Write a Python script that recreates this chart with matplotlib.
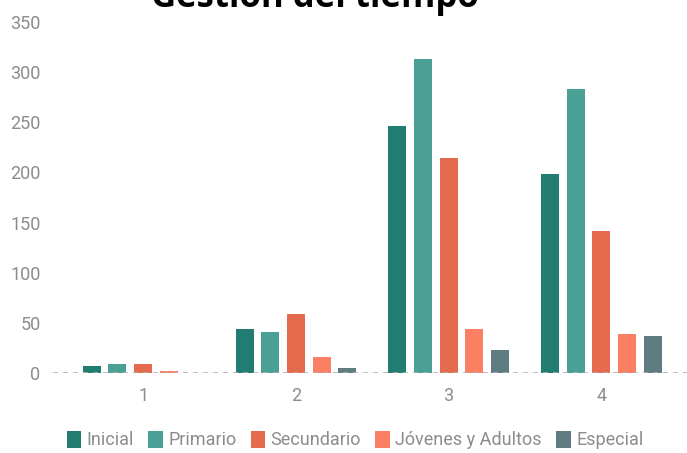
import numpy as np
import matplotlib
matplotlib.use("Agg")
from matplotlib import pyplot as plt
from matplotlib.patches import Patch

# data
groups = ["1", "2", "3", "4"]
series = ["Inicial", "Primario", "Secundario", "Jóvenes y Adultos", "Especial"]
inicial = [7, 44, 246, 198]
primario = [9, 41, 313, 283]
secundario = [9, 59, 214, 142]
jovenes = [2, 16, 44, 39]
especial = [0, 5, 23, 37]
colors = ["#217c71", "#4aa095", "#e56b4e", "#fb8063", "#5f7d81"]

values = [inicial, primario, secundario, jovenes, especial]
narrow = ["Roboto", "DejaVu Sans"]
grey = "#8c8c8c"

fig = plt.figure(figsize=(6.87, 4.53), dpi=100)
ax = fig.add_axes([53 / 687, 1 - 373 / 453, 634 / 687, 351 / 453])

x = np.arange(1, len(groups) + 1)
step = 0.168
width = 0.118
for i, (vals, c) in enumerate(zip(values, colors)):
    ax.bar(x + (i - 2) * step, vals, width=width, color=c, label=series[i], zorder=2)

ax.axhline(0, ls=(0, (3, 3)), color="#b0b0b0", lw=1.2, zorder=3)
ax.set_xlim(0.41, 4.56)
ax.set_ylim(0, 350)
ax.set_yticks(range(0, 351, 50))
ax.set_xticks(x)
ax.set_xticklabels(groups)
for s in ax.spines.values():
    s.set_visible(False)
ax.tick_params(length=0, colors=grey, labelsize=13)
ax.tick_params(axis="y", pad=9)
ax.tick_params(axis="x", pad=10)
for lab in ax.get_xticklabels() + ax.get_yticklabels():
    lab.set_family(narrow)

handles = [Patch(facecolor=c, edgecolor="none") for c in colors]
leg = fig.legend(handles, series, loc="center", bbox_to_anchor=(355 / 687, 1 - 440 / 453),
                 ncol=5, frameon=False, handlelength=0.8, handleheight=1.1,
                 handletextpad=0.3, columnspacing=0.8,
                 prop={"family": narrow, "size": 13})
for t in leg.get_texts():
    t.set_color(grey)

fig.text(315 / 687, 1 - 7 / 453, "Gestión del tiempo", ha="center", va="baseline",
         fontsize=25, fontweight="bold", color="black", family=["Open Sans", "DejaVu Sans"])

fig.savefig("out.png", dpi=100)
